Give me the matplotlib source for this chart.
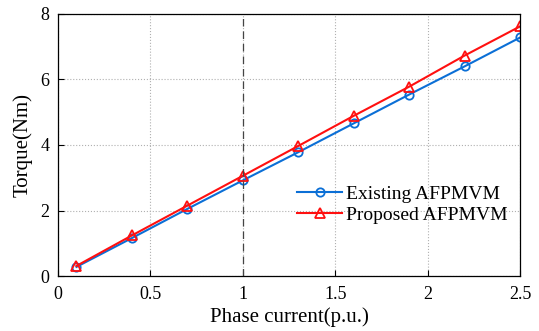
import matplotlib.pyplot as plt

plt.rcParams['font.family'] = ['Liberation Serif', 'DejaVu Serif']

current = [0.1, 0.4, 0.7, 1.0, 1.3, 1.6, 1.9, 2.2, 2.5]
torque_existing = [0.28, 1.16, 2.05, 2.92, 3.78, 4.66, 5.54, 6.40, 7.28]
torque_proposed = [0.31, 1.24, 2.15, 3.06, 3.97, 4.89, 5.78, 6.73, 7.62]

fig = plt.figure(figsize=(5.39, 3.31), dpi=100)
ax = fig.add_axes([0.1076, 0.166, 0.8574, 0.792])

ax.plot(current, torque_existing, color='#0b6fd6', marker='o', markersize=6,
        markerfacecolor='none', markeredgewidth=1.3, linewidth=1.5, label='Existing AFPMVM')
ax.plot(current, torque_proposed, color='#ff1010', marker='^', markersize=7,
        markerfacecolor='none', markeredgewidth=1.3, linewidth=1.5, label='Proposed AFPMVM')
ax.axvline(1.0, color='#444444', linestyle=(0, (6, 4)), linewidth=0.9)

ax.set_xlim(0, 2.5)
ax.set_ylim(0, 8)
ax.set_xticks([0, 0.5, 1, 1.5, 2, 2.5])
ax.set_xticklabels(['0', '0.5', '1', '1.5', '2', '2.5'])
ax.set_yticks([0, 2, 4, 6, 8])
ax.grid(True, linestyle=':', color='#b0b0b0', linewidth=0.8)
ax.tick_params(direction='in', labelsize=13, length=4, top=False, right=False)
ax.tick_params(axis='x', pad=7)
ax.tick_params(axis='y', pad=6)
for s in ax.spines.values():
    s.set_linewidth(0.9)

ax.set_xlabel('Phase current(p.u.)', fontsize=15, labelpad=3)
ax.set_ylabel('Torque(Nm)', fontsize=15, labelpad=6)

ax.legend(loc='lower right', bbox_to_anchor=(0.99, 0.17), frameon=False, fontsize=14,
          handlelength=2.3, handletextpad=0.2, labelspacing=0.15, borderaxespad=0)

fig.savefig('out.png', dpi=100)
